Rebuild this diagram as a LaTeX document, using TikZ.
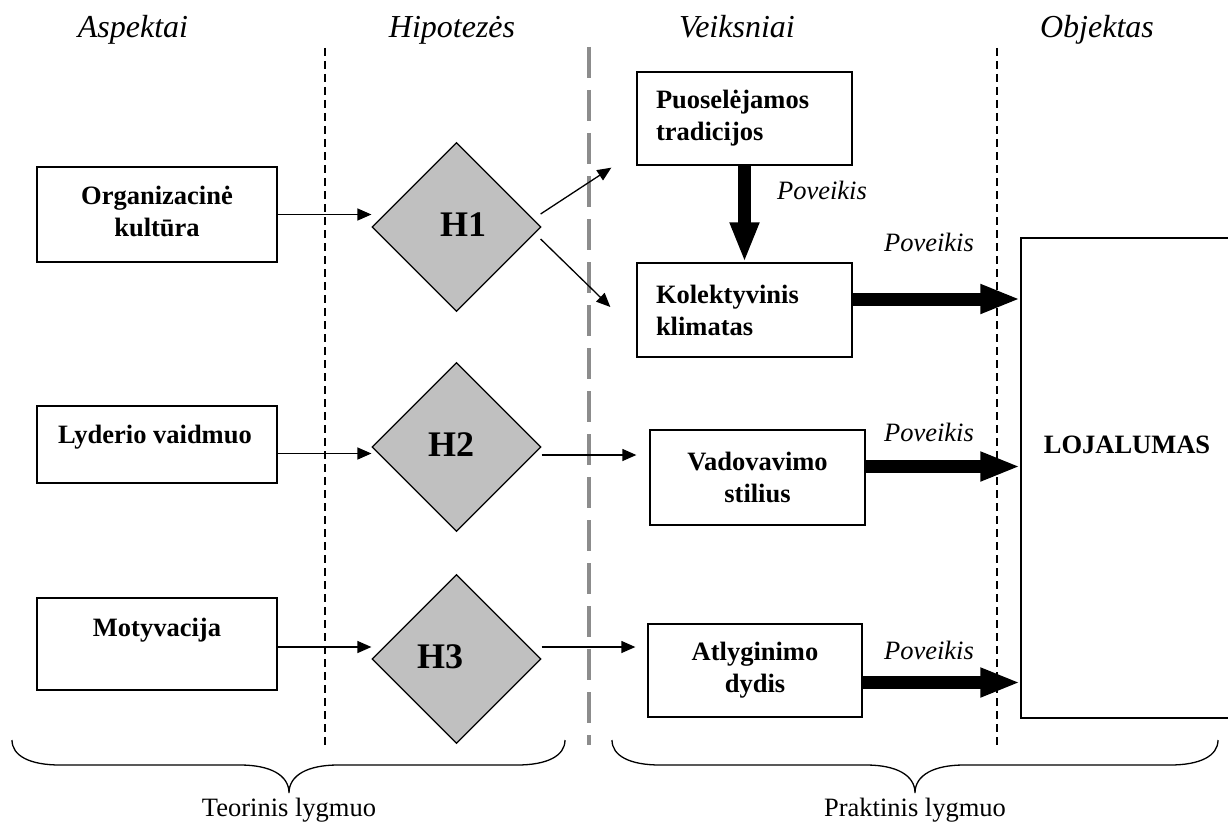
\documentclass[tikz,border=0pt]{standalone}
\usepackage{fontspec}
\setmainfont{Liberation Serif}
\usetikzlibrary{arrows.meta,shapes.geometric,calc}
\definecolor{zonegray}{RGB}{140,140,140}
\definecolor{hypfill}{RGB}{192,192,192}
\begin{document}
\begin{tikzpicture}[x=1pt,y=-1pt,
  box/.style={draw, line width=1.3pt, fill=white, align=center, inner sep=0pt,
    font=\fontsize{26.5}{32}\selectfont\bfseries},
  leftbox/.style={box, align=left, text width=177pt, inner xsep=19pt},
  boxtext/.style={align=center, inner sep=0pt, font=\fontsize{26.5}{32}\selectfont\bfseries},
  hyp/.style={diamond, draw, line width=1.2pt, fill=hypfill, minimum size=169pt, inner sep=0pt},
  hlabel/.style={inner sep=0pt, font=\fontsize{36}{40}\selectfont\bfseries},
  head/.style={inner sep=0pt, anchor=base, font=\fontsize{32}{36}\selectfont\itshape},
  eff/.style={inner sep=0pt, font=\fontsize{26.5}{30}\selectfont\itshape},
  level/.style={inner sep=0pt, font=\fontsize{26.5}{30}\selectfont},
  thinarrow/.style={-{Triangle[length=14pt,width=12pt]}, line width=1.3pt},
  thickarrow/.style={-{Triangle[length=40pt,width=27pt]}, line width=13pt},
  divider/.style={dash pattern=on 8pt off 5pt, line width=1.1pt},
  zone/.style={draw=zonegray, dash pattern=on 31pt off 12pt, line width=3.5pt},
  brace/.style={line width=1.3pt}]
\useasboundingbox (0,0) rectangle (1228,832);

% column headings
\node[head] (hA) at (133,38) {Aspektai};
\node[head] (hH) at (452,38) {Hipotezės};
\node[head] (hV) at (737,38) {Veiksniai};
\node[head] (hO) at (1097,38) {Objektas};

% column separators
\coordinate (d1t) at (325,48);  \coordinate (d1b) at (325,745);
\coordinate (d2t) at (997,48);  \coordinate (d2b) at (997,745);
\coordinate (zt) at (589,47);   \coordinate (zb) at (589,745);
\draw[divider] (d1t) -- (d1b);
\draw[divider] (d2t) -- (d2b);
\draw[zone] (zt) -- (zb);

% aspects
\node[box, minimum width=240pt, minimum height=95pt] (org) at (157,214.5) {};
\node[boxtext] (orgT) at (157,211) {Organizacinė\\kultūra};
\node[box, minimum width=240pt, minimum height=77pt] (lyd) at (157,444.5) {};
\node[boxtext] (lydT) at (155,437) {Lyderio vaidmuo};
\node[box, minimum width=240pt, minimum height=92pt] (mot) at (157,644) {};
\node[boxtext] (motT) at (157,630) {Motyvacija};

% hypotheses
\node[hyp] (h1) at (456.5,227) {};
\node[hyp] (h2) at (456.5,447) {};
\node[hyp] (h3) at (456.5,659) {};
\node[hlabel] (h1T) at (463,225) {H1};
\node[hlabel] (h2T) at (451,445) {H2};
\node[hlabel] (h3T) at (440,657) {H3};

% factors
\node[leftbox, minimum height=93pt] (puo) at (744.5,118.5) {Puoselėjamos\\tradicijos};
\node[leftbox, minimum height=94pt] (kol) at (744.5,310) {Kolektyvinis\\klimatas};
\node[box, minimum width=215pt, minimum height=95pt] (vad) at (757.5,477.5) {Vadovavimo\\stilius};
\node[box, minimum width=214pt, minimum height=93pt] (atl) at (755,670.5) {Atlyginimo\\dydis};

% object
\node[box, minimum width=219pt, minimum height=480pt] (loj) at (1130.5,478) {};
\node[boxtext] (lojT) at (1127,445) {LOJALUMAS};

% aspect -> hypothesis
\draw[thinarrow] (org.east) -- (org.east -| h1.west);
\draw[thinarrow] ($(lyd.east)+(0,9)$) -- ($(lyd.east -| h2.west)+(0,9)$);
\draw[thinarrow] ($(mot.east)+(0,3)$) -- ($(mot.east -| h3.west)+(0,3)$);

% hypothesis -> factor
\draw[thinarrow] ($(h1.east)+(-1,-13)$) -- ($(puo.south west)+(-25,2)$);
\draw[thinarrow] ($(h1.east)+(-1,12)$) -- ($(kol.west)+(-26,-3)$);
\draw[thinarrow, shorten >=13pt] ($(h2.east)+(0,8)$) -- ($(h2.east -| vad.west)+(0,8)$);
\draw[thinarrow, shorten >=12pt] ($(h3.east)+(0,-12)$) -- ($(h3.east -| atl.west)+(0,-12)$);

% effects
\draw[thickarrow] (puo.south) -- (kol.north);
\draw[thickarrow] ($(kol.east)+(0,-11)$) -- ($(kol.east -| loj.west)+(0,-11)$);
\draw[thickarrow] ($(vad.east)+(0,-11)$) -- ($(vad.east -| loj.west)+(0,-11)$);
\draw[thickarrow] ($(atl.east)+(0,12)$) -- ($(atl.east -| loj.west)+(0,12)$);
\node[eff] (e1) at (822,190) {Poveikis};
\node[eff] (e2) at (929,242) {Poveikis};
\node[eff] (e3) at (929,432) {Poveikis};
\node[eff] (e4) at (929,650) {Poveikis};

% levels
\draw[brace] (12,740) .. controls (12,756) and (30,765) .. (60,765) -- (240,765)
  .. controls (270,765) and (289,775) .. (289,793)
  .. controls (289,775) and (308,765) .. (338,765) -- (517,765)
  .. controls (547,765) and (565,756) .. (565,740);
\draw[brace] (612,740) .. controls (612,756) and (630,765) .. (660,765) -- (866,765)
  .. controls (896,765) and (915,775) .. (915,793)
  .. controls (915,775) and (934,765) .. (964,765) -- (1170,765)
  .. controls (1200,765) and (1218,756) .. (1218,740);
\node[level] (lT) at (289,810) {Teorinis lygmuo};
\node[level] (lP) at (915,810) {Praktinis lygmuo};
\end{tikzpicture}
\end{document}
